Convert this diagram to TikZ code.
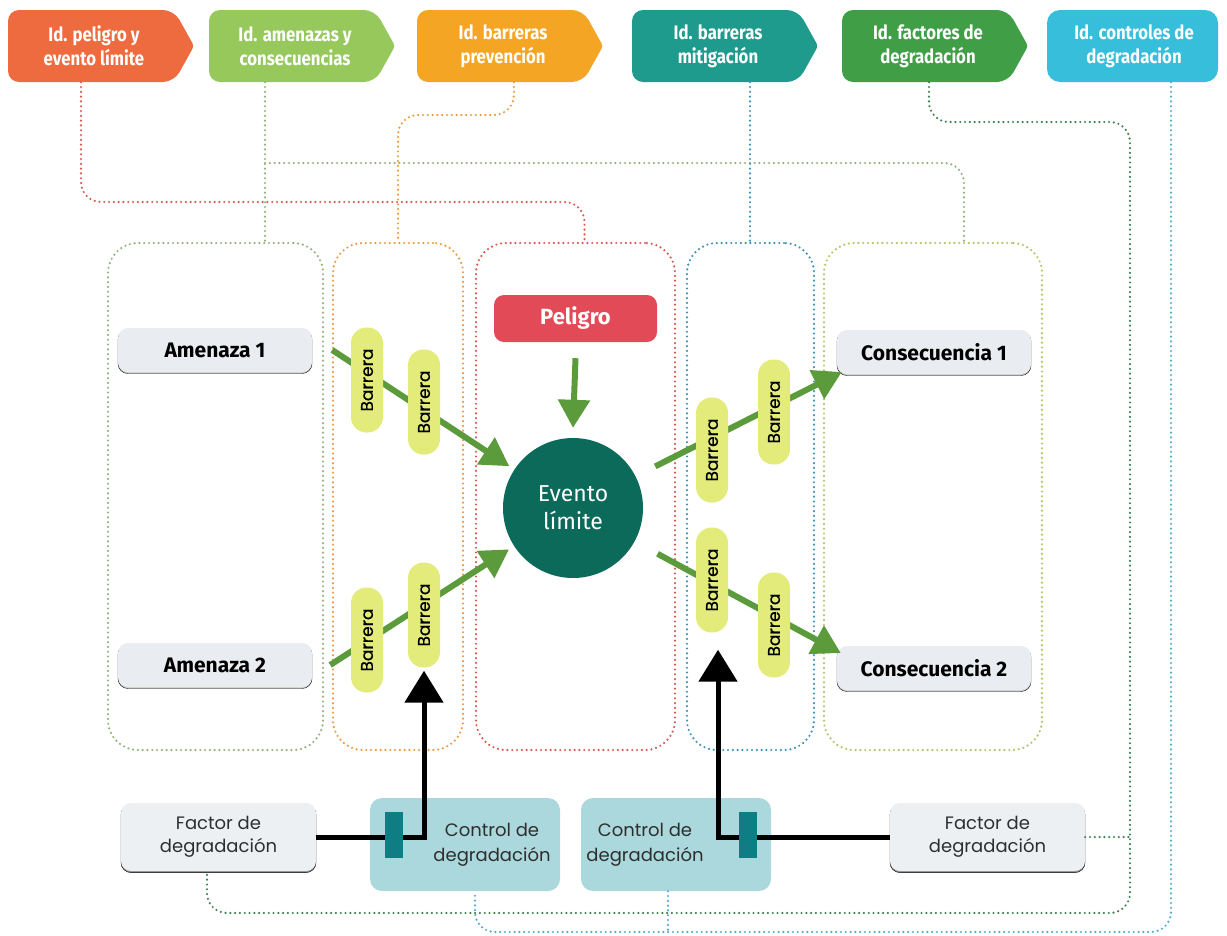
\documentclass[tikz,border=0pt]{standalone}
\usepackage{fontspec}
\setmainfont{Fira Sans}
\newfontfamily\tabfont{Fira Sans}[FakeStretch=0.86]
\newfontfamily\popfont{Poppins}
\newfontfamily\popmid{Poppins}[FakeBold=0.6]
\usetikzlibrary{arrows.meta,shadows}

\definecolor{tabA}{HTML}{EE6B40}
\definecolor{tabB}{HTML}{96C85C}
\definecolor{tabC}{HTML}{F5A524}
\definecolor{tabD}{HTML}{1F9B8D}
\definecolor{tabE}{HTML}{3F9E46}
\definecolor{tabF}{HTML}{36BEDA}
\definecolor{dotRed}{HTML}{DA5A52}
\definecolor{dotGreen}{HTML}{93B47E}
\definecolor{dotOrange}{HTML}{EE9A40}
\definecolor{dotBlue}{HTML}{3F93BA}
\definecolor{dotOlive}{HTML}{B5C266}
\definecolor{dotDark}{HTML}{3F8150}
\definecolor{dotSky}{HTML}{55AACF}
\definecolor{hazard}{HTML}{E24A57}
\definecolor{eventc}{HTML}{0B6A59}
\definecolor{arrowg}{HTML}{5C9B3B}
\definecolor{barY}{HTML}{E3EB7A}
\definecolor{pillG}{HTML}{E9ECF0}
\definecolor{ctrlC}{HTML}{ABD8DC}
\definecolor{markC}{HTML}{0E7D84}
\definecolor{txtG}{HTML}{2E2E2E}

\tikzset{
  dotline/.style={line width=2.4pt, line cap=round, dash pattern=on 0pt off 4.8pt},
  dotbox/.style={draw, dotline, rounded corners=30pt, minimum height=507pt, inner sep=0pt},
  tabtext/.style={text=white, font=\tabfont\bfseries\fontsize{19.5}{24}\selectfont, align=center, inner sep=0pt},
  graypill/.style={fill=pillG, rounded corners=10pt, minimum width=194pt, minimum height=44pt,
    font=\bfseries\fontsize{21}{24}\selectfont, text=black,
    copy shadow={shadow xshift=0pt, shadow yshift=-1.5pt, fill=black!18}},
  factorbox/.style={fill=pillG!80!white, rounded corners=10pt, minimum width=195pt, minimum height=68pt,
    font=\popfont\fontsize{18}{23}\selectfont, text=txtG, align=center,
    copy shadow={shadow xshift=0pt, shadow yshift=-1.6pt, fill=black!45}},
  ctrlbox/.style={fill=ctrlC, rounded corners=12pt, minimum width=190pt, minimum height=93pt},
  ctrltext/.style={font=\popfont\fontsize{18}{25}\selectfont, text=txtG, align=center, inner sep=0pt},
  ctrlmark/.style={fill=markC, minimum width=18pt, minimum height=46pt, inner sep=0pt},
  barpill/.style={fill=barY, rounded corners=15.5pt, minimum width=105pt, minimum height=32pt,
    rotate=90, inner sep=0pt, font=\popmid\fontsize{17}{19}\selectfont, text=black},
  garrow/.style={draw=arrowg, line width=6pt, -{Triangle[length=28pt,width=31pt]}},
  blackline/.style={draw=black, line width=5pt, -{Triangle[length=32pt,width=38pt]}},
}

% a header tab: name, left edge, colour, label
\newcommand\headtab[4]{%
  \fill[#3, rounded corners=11pt] (#2,10) -- ({#2+166},10) [rounded corners=3pt] -- ({#2+186},46)
    [rounded corners=11pt] -- ({#2+166},82) -- (#2,82) -- cycle;
  \node[tabtext, minimum width=166pt, minimum height=72pt] (#1) at ({#2+86},46) {#4};
}

\begin{document}
\begin{tikzpicture}[x=1pt,y=-1pt]
\useasboundingbox (0,0) rectangle (1227,935);
\fill[white] (0,0) rectangle (1227,935);

% header tabs
\headtab{tab1}{8}{tabA}{Id. peligro y\\evento límite}
\headtab{tab2}{209}{tabB}{Id. amenazas y\\consecuencias}
\headtab{tab3}{417}{tabC}{Id. barreras\\prevención}
\headtab{tab4}{632}{tabD}{Id. barreras\\mitigación}
\headtab{tab5}{842}{tabE}{Id. factores de\\degradación}
\fill[tabF, rounded corners=13pt] (1047,10) rectangle (1218,82);
\node[tabtext, minimum width=160pt, minimum height=72pt] (tab6) at (1134,46) {Id. controles de\\degradación};

% column frames
\node[dotbox, draw=dotGreen, minimum width=215pt] (thrbox) at (215.5,496.5) {};
\node[dotbox, draw=dotOrange, minimum width=130pt] (prevbox) at (398,496.5) {};
\node[dotbox, draw=dotRed, minimum width=199pt] (riskbox) at (575.5,496.5) {};
\node[dotbox, draw=dotBlue, minimum width=127pt] (mitbox) at (750.5,496.5) {};
\node[dotbox, draw=dotOlive, minimum width=218pt] (conbox) at (933,496.5) {};

% bottom boxes
\node[factorbox] (fac1) at (218.5,837) {Factor de\\degradación};
\node[factorbox] (fac2) at (987.5,837) {Factor de\\degradación};
\node[ctrlbox] (ctrl1) at (465,844.5) {};
\node[ctrlbox] (ctrl2) at (676,844.5) {};

% junctions on the dotted guide lines
\coordinate (gj) at (265,163);
\coordinate (gdr) at (1130,837);
\coordinate (bj) at (668,932);

% dotted guide lines from the tabs
\draw[dotline, draw=dotRed, rounded corners=20pt] ([xshift=-13pt]tab1.south) |- (300,202) -| ([xshift=9pt]riskbox.north);
\draw[dotline, draw=dotGreen] ([xshift=-30pt]tab2.south) -- ([xshift=-30pt]tab2.south |- thrbox.north);
\draw[dotline, draw=dotGreen, rounded corners=20pt] (gj) -| ([xshift=31pt]conbox.north);
\draw[dotline, draw=dotOrange, rounded corners=20pt] ([xshift=11pt]tab3.south) |- (450,115) -| (prevbox.north);
\draw[dotline, draw=dotBlue] ([xshift=32pt]tab4.south) -- ([xshift=32pt]tab4.south |- mitbox.north);
\draw[dotline, draw=dotDark, rounded corners=20pt] ([xshift=1pt]tab5.south) |- (1000,122) -| (1130,500) |- (600,913) -| ([xshift=-11.5pt]fac1.south);
\draw[dotline, draw=dotDark] (fac2.east) -- (gdr);
\draw[dotline, draw=dotSky, rounded corners=20pt] ([xshift=37pt]tab6.south) |- (800,932) -| ([xshift=10pt]ctrl1.south);
\draw[dotline, draw=dotSky] ([xshift=-8pt]ctrl2.south) -- (bj);

% hazard and top event
\node[fill=hazard, rounded corners=10pt, minimum width=163pt, minimum height=47pt, text=white,
  font=\bfseries\fontsize{22}{26}\selectfont] (peligro) at (575.5,318.5) {Peligro};
\node[circle, fill=eventc, minimum size=140pt, inner sep=0pt, text=white, align=center,
  font=\fontsize{23}{28}\selectfont] (evento) at (573,508) {Evento\\límite};

% threats and consequences
\node[graypill] (amen1) at (215,350) {Amenaza 1};
\node[graypill] (amen2) at (215,665) {Amenaza 2};
\node[graypill] (cons1) at (934,352) {Consecuencia 1};
\node[graypill] (cons2) at (934,668) {Consecuencia 2};

% green flow arrows
\draw[garrow] ([yshift=-16pt]peligro.south) -- ([yshift=10pt]evento.north);
\draw[garrow, shorten >=6pt] ([xshift=20pt]amen1.east) -- (evento);
\draw[garrow, shorten >=6pt] ([xshift=18pt]amen2.east) -- (evento);
\draw[garrow, shorten <=22pt] (evento) -- ([xshift=5pt,yshift=-20pt]cons1.west);
\draw[garrow, shorten <=26pt] (evento) -- ([xshift=4pt,yshift=15pt]cons2.west);

% barriers (rotated, so .west is the lower end)
\node[barpill] (bar1) at (367,380) {Barrera};
\node[barpill] (bar2) at (424,402) {Barrera};
\node[barpill] (bar3) at (367,640) {Barrera};
\node[barpill] (bar4) at (424,615) {Barrera};
\node[barpill] (barA) at (712,450) {Barrera};
\node[barpill] (barB) at (774,412) {Barrera};
\node[barpill] (barC) at (712,580) {Barrera};
\node[barpill] (barD) at (774,625) {Barrera};

% degradation factors acting on barriers
\draw[blackline] (fac1.east) -| ([yshift=-3pt]bar4.west);
\draw[blackline] (fac2.west) -| ([xshift=6pt,yshift=-17pt]barC.west);
\node[ctrlmark] (mark1) at (394,835) {};
\node[ctrlmark] (mark2) at (748,835) {};
\node[ctrltext] (ctrl1txt) at (492,845) {Control de\\degradación};
\node[ctrltext] (ctrl2txt) at (645,845) {Control de\\degradación};
\end{tikzpicture}
\end{document}
